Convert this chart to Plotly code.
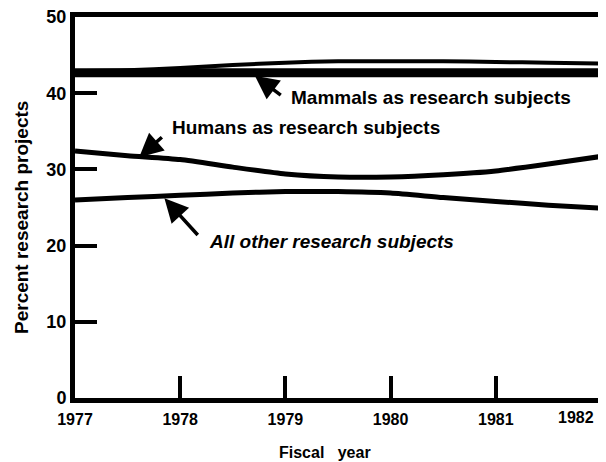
import plotly.graph_objects as go

# ---- data ----
years = [1977, 1977.5, 1978, 1978.5, 1979, 1979.5, 1980, 1980.5, 1981, 1981.5, 1982]
mammals_bar = [42.7, 42.7, 42.7, 42.7, 42.7, 42.7, 42.7, 42.7, 42.7, 42.7, 42.7]
mammals_upper = [42.9, 43.0, 43.3, 43.7, 44.0, 44.2, 44.2, 44.2, 44.1, 44.0, 43.9]
humans = [32.4, 31.8, 31.3, 30.3, 29.4, 29.0, 29.0, 29.3, 29.8, 30.7, 31.7]
all_other = [26.0, 26.3, 26.6, 26.9, 27.1, 27.1, 26.9, 26.3, 25.8, 25.3, 24.9]

x_ticks = [1977, 1978, 1979, 1980, 1981, 1982]
x_tick_labels = ["1977", "1978", "1979", "1980", "1981", "1982"]
y_ticks = [0, 10, 20, 30, 40, 50]
y_tick_labels = ["0", "10", "20", "30", "40", "50"]

FONT = "Liberation Sans, Arial, sans-serif"

# page body has an 8px margin, so the figure is drawn 8px smaller
W, H = 598, 454
L, R, T, B = 67, 5, 9, 64
OFF = 8

fig = go.Figure()
fig.add_trace(go.Scatter(x=years, y=mammals_bar, mode="lines",
                         line=dict(color="black", width=9), showlegend=False))
fig.add_trace(go.Scatter(x=years, y=mammals_upper, mode="lines",
                         line=dict(color="black", width=4, shape="spline", smoothing=0.6),
                         showlegend=False))
fig.add_trace(go.Scatter(x=years, y=humans, mode="lines",
                         line=dict(color="black", width=5, shape="spline", smoothing=0.6),
                         showlegend=False))
fig.add_trace(go.Scatter(x=years, y=all_other, mode="lines",
                         line=dict(color="black", width=5, shape="spline", smoothing=0.6),
                         showlegend=False))

# arrows
arrows = [
    dict(x=1978.71, y=42.3, ax=1978.97, ay=39.6),
    dict(x=1977.61, y=31.6, ax=1977.84, ay=34.4),
    dict(x=1977.85, y=26.2, ax=1978.18, ay=21.2),
]
for a in arrows:
    fig.add_annotation(x=a["x"], y=a["y"], ax=a["ax"], ay=a["ay"], xref="x", yref="y",
                       axref="x", ayref="y", text="", showarrow=True, arrowhead=2,
                       arrowsize=1.35, arrowwidth=3.5, arrowcolor="black", standoff=0)

labels = [
    dict(x=1979.03, y=39.5, text="Mammals as research subjects", style="normal"),
    dict(x=1977.9, y=35.55, text="Humans as research subjects", style="normal"),
    dict(x=1978.25, y=20.5, text="All other research subjects", style="italic"),
]
for l in labels:
    fig.add_annotation(x=l["x"], y=l["y"], xref="x", yref="y", text=l["text"],
                       showarrow=False, xanchor="left", yanchor="middle",
                       font=dict(family=FONT, size=19, color="black", weight="bold",
                                 style=l["style"]))

# axis titles (screen pixel positions converted to paper coords)
def px_to_paper(px, py):
    return ((px - OFF) - L) / (W - L - R), 1 - ((py - OFF) - T) / (H - T - B)

yx, yy = px_to_paper(22, 218)
fig.add_annotation(x=yx, y=yy, xref="paper", yref="paper", text="Percent research projects",
                   showarrow=False, textangle=-90, xanchor="center", yanchor="middle",
                   font=dict(family=FONT, size=19, color="black", weight="bold"))
tx, ty = px_to_paper(325, 452)
fig.add_annotation(x=tx, y=ty, xref="paper", yref="paper", text="Fiscal&nbsp;&nbsp;&nbsp;year",
                   showarrow=False, xanchor="center", yanchor="middle",
                   font=dict(family=FONT, size=16, color="black", weight="bold"))

# last x label sits left of its tick (inside the frame) in the reference
x_tick_text = x_tick_labels[:-1] + [""]
_, ly = px_to_paper(0, 417)
fig.add_annotation(x=x_ticks[-1], y=ly, xref="x", yref="paper", text=x_tick_labels[-1],
                   showarrow=False, xanchor="right", yanchor="middle", xshift=-5,
                   font=dict(family=FONT, size=16, color="black", weight="bold"))

fig.update_layout(
    width=W, height=H,
    margin=dict(l=L, r=R, t=T, b=B, autoexpand=False),
    plot_bgcolor="white", paper_bgcolor="white",
    font=dict(family=FONT, color="black"),
    xaxis=dict(range=[1977, 1982], tickvals=x_ticks, ticktext=x_tick_text,
               showgrid=False, zeroline=False, showline=True, linecolor="black",
               linewidth=5, mirror=True, ticks="inside", ticklen=22, tickwidth=4,
               tickcolor="black", ticklabeloverflow="allow", ticklabelstandoff=3,
               automargin=False,
               tickfont=dict(family=FONT, size=16, color="black", weight="bold")),
    yaxis=dict(range=[0, 50], tickvals=y_ticks, ticktext=y_tick_labels,
               showgrid=False, zeroline=False, showline=True, linecolor="black",
               linewidth=5, mirror=True, ticks="inside", ticklen=22, tickwidth=4,
               tickcolor="black", automargin=False, ticklabeloverflow="allow",
               tickfont=dict(family=FONT, size=18, color="black", weight="bold")),
)

fig.write_html("out.html")
